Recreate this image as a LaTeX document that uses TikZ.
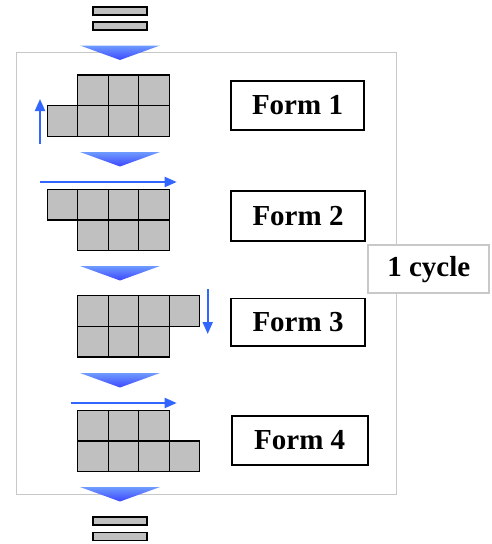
\documentclass[tikz,border=0pt]{standalone}
\usepackage{fontspec}
\setmainfont{Liberation Serif}
\usetikzlibrary{arrows.meta}
\definecolor{cellgray}{RGB}{192,192,192}
\definecolor{framegray}{RGB}{200,200,200}
\definecolor{flowblue}{RGB}{51,102,255}
\definecolor{chevtop}{RGB}{110,155,255}
\definecolor{chevtip}{RGB}{60,70,255}
\tikzset{
  cell/.style={draw=black, line width=1.4pt, fill=cellgray, minimum width=30.5pt,
    minimum height=30.6pt, inner sep=0pt, outer sep=0pt},
  bar/.style={draw=black, line width=1.4pt, fill=cellgray, minimum width=54pt,
    minimum height=8pt, inner sep=0pt, outer sep=0pt},
  formbox/.style={draw=black, line width=1.6pt, fill=white, inner sep=0pt,
    font=\fontsize{29}{34}\selectfont\bfseries},
  cyclebox/.style={draw=framegray, line width=2pt, fill=white, inner sep=0pt,
    minimum width=121pt, minimum height=48pt, font=\fontsize{29}{34}\selectfont\bfseries},
  move/.style={draw=flowblue, line width=2pt, -{Triangle[length=12pt,width=10pt]}},
  chevron/.style={top color=chevtop, bottom color=chevtip, draw=none},
}
% downward chevron whose top edge lies at height #1
\newcommand{\chev}[1]{%
  \path[chevron] (80,#1) -- (160,#1) -- (120,#1+14.5) -- cycle;}
\begin{document}
\begin{tikzpicture}[x=1pt, y=-1pt]
\useasboundingbox (0,0) rectangle (492,544);

% outer frame of one cycle
\draw[framegray, line width=1.3pt] (16.7,52.3) rectangle (396.7,494.3);

% input and output bars
\node[bar] (in1) at (120,11) {};
\node[bar] (in2) at (120,26) {};
\node[bar] (out1) at (120,521) {};
\node[bar] (out2) at (120,536.5) {};

% transition chevrons
\chev{45.5}
\chev{152}
\chev{266}
\chev{373}
\chev{487}

% Form 1
\foreach \k/\x in {1/93,2/123.5,3/154} \node[cell] (a\k) at (\x,90.4) {};
\foreach \k/\x in {0/62.5,1/93,2/123.5,3/154} \node[cell] (b\k) at (\x,121) {};
\coordinate (m1s) at (40,144);
\coordinate (m1e) at (40,99);
\draw[move] (m1s) -- (m1e);

% Form 2
\foreach \k/\x in {0/62.5,1/93,2/123.5,3/154} \node[cell] (c\k) at (\x,204.7) {};
\foreach \k/\x in {1/93,2/123.5,3/154} \node[cell] (d\k) at (\x,235.2) {};
\coordinate (m2s) at (40,182);
\coordinate (m2e) at (176.7,182);
\draw[move] (m2s) -- (m2e);

% Form 3
\foreach \k/\x in {1/93,2/123.5,3/154,4/184.5} \node[cell] (e\k) at (\x,311) {};
\foreach \k/\x in {1/93,2/123.5,3/154} \node[cell] (f\k) at (\x,341.8) {};
\coordinate (m3s) at (207.7,289);
\coordinate (m3e) at (207.7,334);
\draw[move] (m3s) -- (m3e);

% Form 4
\foreach \k/\x in {1/93,2/123.5,3/154} \node[cell] (g\k) at (\x,425.9) {};
\foreach \k/\x in {1/93,2/123.5,3/154,4/184.5} \node[cell] (h\k) at (\x,456.4) {};
\coordinate (m4s) at (70.7,403);
\coordinate (m4e) at (176.7,403);
\draw[move] (m4s) -- (m4e);

% labels
\node[formbox, minimum width=133pt, minimum height=49.3pt] (form1) at (297.5,105.4) {Form 1};
\node[formbox, minimum width=134pt, minimum height=50.3pt] (form2) at (298,215.9) {Form 2};
\node[formbox, minimum width=134pt, minimum height=47.7pt] (form3) at (298,322.2) {Form 3};
\node[formbox, minimum width=136pt, minimum height=49.3pt] (form4) at (299.7,440.4) {Form 4};
\node[cyclebox] (cycle) at (428.8,269.2) {1 cycle};
\end{tikzpicture}
\end{document}
